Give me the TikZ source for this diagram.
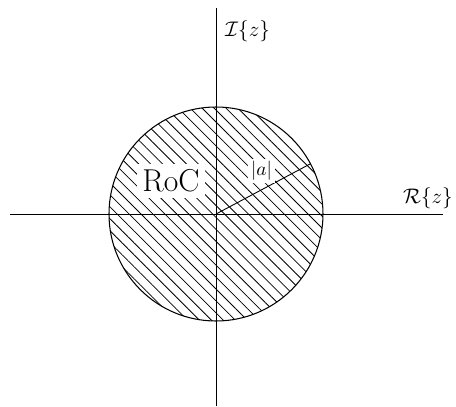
\documentclass[tikz,border=0pt]{standalone}
\usepackage{amsmath}
\usetikzlibrary{patterns.meta}
\tikzset{
  axis/.style={draw=black,line width=0.5pt},
  region/.style={draw=black,line width=0.6pt,
    pattern={Lines[angle=-45,distance=4.8pt,line width=0.45pt]}},
  radline/.style={draw=black,line width=0.5pt},
  lbl/.style={fill=white,inner sep=1.5pt,font=\fontsize{11}{13}\selectfont},
  roclbl/.style={fill=white,font=\fontsize{18}{20}\selectfont},
  axislbl/.style={inner sep=1pt,font=\fontsize{12.5}{14}\selectfont},
}

\begin{document}
\begin{tikzpicture}[x=0.2mm,y=0.2mm]
\useasboundingbox (-216,-193) rectangle (240,214);

\coordinate (o) at (0,0);
\coordinate (xl) at (-206,0);
\coordinate (xr) at (227,0);
\coordinate (yb) at (0,-192);
\coordinate (yt) at (0,206);
\coordinate (rim) at (28:107);

% region of convergence
\draw[region] (o) circle[radius=107];

\draw[axis] (xl) -- (xr);
\draw[axis] (yb) -- (yt);
\draw[radline] (o) -- (rim);

\node[roclbl] (roc) at (-45,33) {RoC};
\node[lbl] (mag) at (45.5,43) {$|a|$};

\node[axislbl] (re) at (212,16) {$\mathcal{R}\{z\}$};
\node[axislbl] (im) at (31.5,183) {$\mathcal{I}\{z\}$};

\end{tikzpicture}
\end{document}
